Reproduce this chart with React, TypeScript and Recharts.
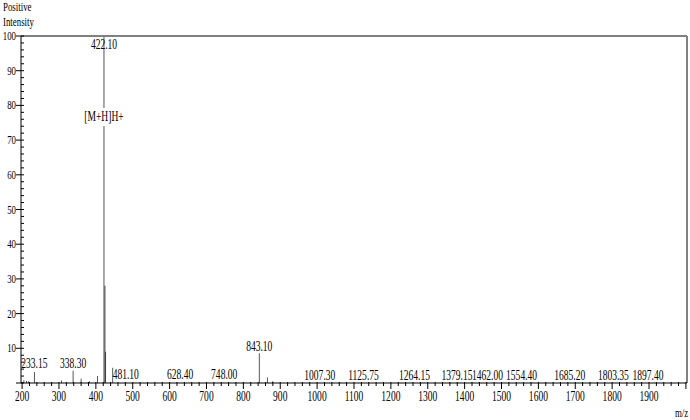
import React from 'react';
import { ComposedChart, Bar, Scatter, XAxis, YAxis, ReferenceLine } from 'recharts';

// Peak list (m/z, relative intensity %)
const peakMz = [205, 212, 218, 233.15, 307, 338.3, 360, 383, 405, 422.1, 424.8, 426.8, 446, 843.1, 865, 880];
const peakIntensity = [0.8, 0.6, 0.5, 3.2, 0.7, 3.5, 1.2, 0.5, 2.0, 100, 28, 9, 4.4, 8.6, 1.6, 0.5];

// Peak annotations
const labelMz = [233.15, 338.3, 422.1, 422.1, 481.1, 628.4, 748.0, 843.1, 1007.3, 1125.75, 1264.15, 1379.15, 1462.0, 1554.4, 1685.2, 1803.35, 1897.4];
const labelText = ['233.15', '338.30', '422.10', '[M+H]H+', '481.10', '628.40', '748.00', '843.10', '1007.30', '1125.75', '1264.15', '1379.15', '1462.00', '1554.40', '1685.20', '1803.35', '1897.40'];
const labelLevel = [4.3, 4.4, 96.3, 75.5, 1.1, 1.1, 1.1, 9.3, 1.0, 1.0, 1.0, 1.0, 1.0, 1.0, 1.0, 1.0, 1.0];

// Axis ticks
const xMajorTicks = [200, 300, 400, 500, 600, 700, 800, 900, 1000, 1100, 1200, 1300, 1400, 1500, 1600, 1700, 1800, 1900];
const yMajorTicks = [10, 20, 30, 40, 50, 60, 70, 80, 90, 100];
const xDomain = [197, 2003];
const yDomain = [0, 100];

const xAllTicks: number[] = [];
for (let v = 200; v <= 2000; v += 20) xAllTicks.push(v);
const yAllTicks: number[] = [];
for (let v = 0; v <= 100; v += 2) yAllTicks.push(v);

const peaks = peakMz.map((mz, i) => ({ mz, intensity: peakIntensity[i] }));
const labels = labelMz.map((mz, i) => ({ mz, level: labelLevel[i], text: labelText[i] }));

const FONT = 'Liberation Serif, Times New Roman, serif';
const SX = 0.68;

const CondText = ({ x, y, anchor = 'middle', size = 14, children }: any) => (
  <text
    x={0}
    y={0}
    transform={`translate(${x},${y}) scale(${SX},1)`}
    textAnchor={anchor}
    fontFamily={FONT}
    fontSize={size}
    fill="#000"
  >
    {children}
  </text>
);

const XTick = (props: any) => {
  const { x, y, payload } = props;
  const v = payload.value;
  const major = v % 100 === 0;
  return (
    <g>
      <line x1={x} x2={x} y1={y - 1} y2={major ? y + 6 : y + 3} stroke="#000" strokeWidth={1} />
      {major && xMajorTicks.includes(v) ? (
        <CondText x={x} y={y + 18}>{String(v)}</CondText>
      ) : null}
    </g>
  );
};

const YTick = (props: any) => {
  const { x, y, payload } = props;
  const v = payload.value;
  const major = v % 10 === 0;
  return (
    <g>
      {major ? (
        <line x1={x - 5} x2={x} y1={y} y2={y} stroke="#000" strokeWidth={1} />
      ) : null}
      <line x1={x} x2={x + 3} y1={y} y2={y} stroke="#000" strokeWidth={1} />
      {major && yMajorTicks.includes(v) ? (
        <CondText x={x - 5} y={y + 4} anchor="end" size={13}>{String(v)}</CondText>
      ) : null}
    </g>
  );
};

const LabelShape = (props: any) => {
  const { cx, cy, payload } = props;
  if (cx == null || cy == null) return <g />;
  const isAdduct = payload.text.startsWith('[');
  return (
    <g>
      {isAdduct ? <rect x={cx - 14} y={cy - 13} width={28} height={18} fill="#fff" /> : null}
      <CondText x={cx} y={cy}>{payload.text}</CondText>
    </g>
  );
};

export default function App() {
  return (
    <div style={{ position: 'absolute', left: 0, top: 0, width: 690, height: 420, background: '#fff' }}>
      <ComposedChart
        width={690}
        height={420}
        data={peaks}
        margin={{ top: 36, right: 3, bottom: 36, left: 20 }}
      >
        <XAxis
          dataKey="mz"
          type="number"
          domain={xDomain}
          allowDataOverflow
          ticks={xAllTicks}
          interval={0}
          height={1}
          tickSize={0}
          tickMargin={0}
          tickLine={false}
          axisLine={{ stroke: '#000', strokeWidth: 1 }}
          tick={<XTick />}
        />
        <YAxis
          type="number"
          domain={yDomain}
          allowDataOverflow
          ticks={yAllTicks}
          interval={0}
          width={1}
          tickSize={0}
          tickMargin={0}
          tickLine={false}
          axisLine={{ stroke: '#000', strokeWidth: 1 }}
          tick={<YTick />}
        />
        <ReferenceLine y={100} stroke="#808080" strokeWidth={2} />
        <ReferenceLine x={2003} stroke="#808080" strokeWidth={2} />
        <Bar dataKey="intensity" barSize={1} fill="#000" isAnimationActive={false} />
        <Scatter data={labels} dataKey="level" isAnimationActive={false} shape={<LabelShape />} />
      </ComposedChart>
      <svg
        width={690}
        height={420}
        style={{ position: 'absolute', left: 0, top: 0, pointerEvents: 'none' }}
      >
        <CondText x={3} y={11} anchor="start" size={13}>Positive</CondText>
        <CondText x={3} y={26} anchor="start" size={13}>Intensity</CondText>
        <CondText x={675} y={417} anchor="start" size={13}>m/z</CondText>
      </svg>
    </div>
  );
}
